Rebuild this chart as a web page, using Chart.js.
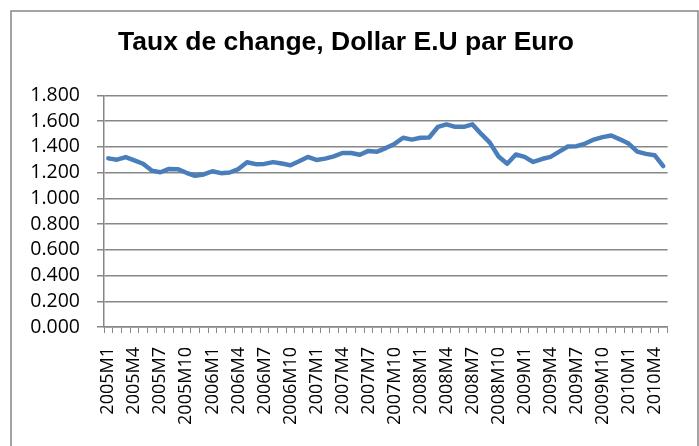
<!DOCTYPE html>
<html>
<head>
<meta charset="utf-8">
<script src="https://cdn.jsdelivr.net/npm/chart.js@4"></script>
<style>
  html, body { margin: 0; padding: 0; background: #fff; }
  #cadre { width: 699px; height: 446px; }
</style>
</head>
<body>
<div id="cadre"><canvas id="graphique" width="699" height="446"></canvas></div>
<script>
// Taux de change mensuel, dollar E.U par euro
const annees = [2005, 2006, 2007, 2008, 2009, 2010];
const taux2005 = [1.310, 1.300, 1.320, 1.295, 1.268, 1.215, 1.202, 1.228, 1.226, 1.198, 1.175, 1.185];
const taux2006 = [1.210, 1.195, 1.200, 1.227, 1.280, 1.265, 1.267, 1.281, 1.270, 1.257, 1.288, 1.321];
const taux2007 = [1.298, 1.308, 1.325, 1.352, 1.352, 1.338, 1.368, 1.362, 1.390, 1.422, 1.470, 1.456];
const taux2008 = [1.470, 1.472, 1.554, 1.574, 1.555, 1.555, 1.574, 1.500, 1.432, 1.325, 1.268, 1.340];
const taux2009 = [1.322, 1.282, 1.305, 1.322, 1.362, 1.402, 1.405, 1.425, 1.456, 1.475, 1.488, 1.458];
const taux2010 = [1.425, 1.362, 1.345, 1.335, 1.250];
const graduationsY = [0, 0.2, 0.4, 0.6, 0.8, 1.0, 1.2, 1.4, 1.6, 1.8];

const series = [taux2005, taux2006, taux2007, taux2008, taux2009, taux2010];
const mois = [];
const valeurs = [];
series.forEach((s, k) => {
    s.forEach((v, m) => {
        mois.push(annees[k] + 'M' + (m + 1));
        valeurs.push(v);
    });
});

const gris = '#878787';

// cadre gris autour du graphique
const cadrePlugin = {
    id: 'cadre',
    beforeDraw(c) {
        const ctx = c.ctx;
        ctx.save();
        ctx.fillStyle = '#ffffff';
        ctx.fillRect(0, 0, c.width, c.height);
        ctx.strokeStyle = gris;
        ctx.lineWidth = 1.5;
        ctx.strokeRect(11, 11, 687, 450);
        ctx.restore();
    }
};

new Chart(document.getElementById('graphique').getContext('2d'), {
    type: 'line',
    data: {
        labels: mois,
        datasets: [{
            label: 'Dollar E.U par Euro',
            data: valeurs,
            borderColor: '#4a7ebb',
            borderWidth: 4.5,
            pointRadius: 0,
            tension: 0,
            fill: false,
            borderJoinStyle: 'round',
            borderCapStyle: 'round'
        }]
    },
    options: {
        responsive: false,
        animation: false,
        devicePixelRatio: 1,
        layout: { padding: { left: 11, right: 18, top: 0, bottom: 0 } },
        plugins: {
            legend: { display: false },
            tooltip: { enabled: false },
            title: {
                display: true,
                text: 'Taux de change, Dollar E.U par Euro',
                color: '#000',
                font: { family: 'Liberation Sans', size: 26.5, weight: 'bold' },
                padding: { top: 27, bottom: 36.5 }
            }
        },
        scales: {
            x: {
                offset: true,
                afterFit(scale) { scale.height = 119; },
                grid: {
                    offset: true,
                    drawOnChartArea: false,
                    drawTicks: true,
                    tickLength: 6,
                    color: gris
                },
                border: { color: gris, width: 1.5 },
                ticks: {
                    autoSkip: false,
                    minRotation: 90,
                    maxRotation: 90,
                    padding: 14,
                    color: '#000',
                    font: { family: 'Open Sans', size: 18 },
                    callback(v, i) { return i % 3 === 0 ? mois[i] : ''; }
                }
            },
            y: {
                min: 0,
                max: 1.8,
                afterFit(scale) { scale.width = 93; },
                afterBuildTicks(scale) {
                    scale.ticks = graduationsY.map(v => ({ value: v }));
                },
                grid: { color: gris, lineWidth: 1.5, tickLength: 7 },
                border: { color: gris, width: 1.5 },
                ticks: {
                    autoSkip: false,
                    padding: 17,
                    color: '#000',
                    font: { family: 'Open Sans', size: 19.5 },
                    callback(v) { return Number(v).toFixed(3); }
                }
            }
        }
    },
    plugins: [cadrePlugin]
});
</script>
</body>
</html>
